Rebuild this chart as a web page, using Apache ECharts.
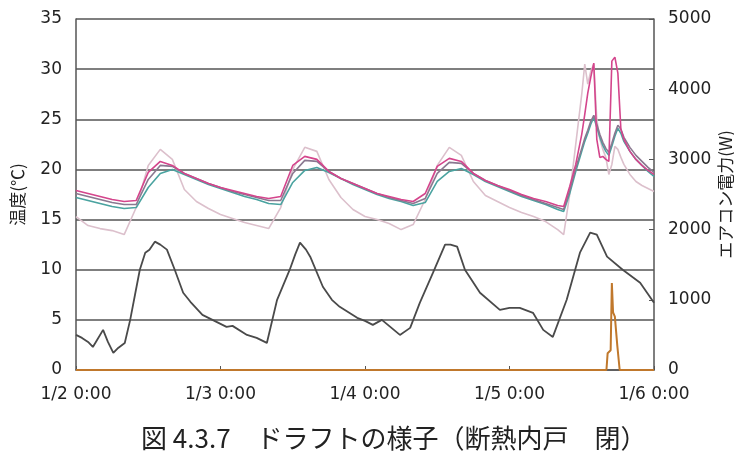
<!DOCTYPE html>
<html>
<head>
<meta charset="utf-8">
<script src="https://cdn.jsdelivr.net/npm/echarts@6/dist/echarts.min.js"></script>
<style>
  html, body { margin: 0; padding: 0; background: #ffffff; }
  #chart { width: 734px; height: 457px; }
</style>
</head>
<body>
<div id="chart"></div>
<script>
// Time in hours from 1/2 0:00
const xTickLabels = ['1/2 0:00', '1/3 0:00', '1/4 0:00', '1/5 0:00', '1/6 0:00'];

// Sample times for the indoor temperatures (denser around the heating spikes)
const tIn = [0,2,4,6,8,10,12,14,16,18,20,22,24,26,28,30,32,34,36,38,40,42,44,46,48,50,52,54,56,58,60,62,64,66,68,70,72,74,76,78,80,
  81,82,83,84,84.5,85,85.5,86,86.5,87,87.5,88,88.5,89,89.5,90,90.5,91,92,93,94,95,96];

// Indoor temperatures (°C)
const tempMagenta = [17.9,17.6,17.3,17.0,16.8,16.9,19.7,20.8,20.4,19.6,19.1,18.6,18.2,17.9,17.6,17.3,17.1,17.3,20.4,21.3,21.0,19.8,19.1,18.6,18.1,17.6,17.3,17.0,16.8,17.6,20.3,21.1,20.8,19.6,18.9,18.4,18.0,17.5,17.1,16.8,16.4,
  16.3,18.3,20.5,23.5,25.5,27.6,29.2,30.6,23.0,21.2,21.3,21.0,20.8,30.8,31.2,29.6,24.0,23.0,21.8,21.0,20.4,19.9,19.5];
const tempGray = [17.6,17.3,17.0,16.7,16.5,16.5,19.0,20.4,20.3,19.6,19.1,18.6,18.2,17.8,17.5,17.2,16.9,16.9,19.6,20.9,20.8,19.8,19.1,18.6,18.1,17.6,17.2,16.9,16.6,17.1,19.6,20.7,20.6,19.6,18.9,18.4,17.9,17.4,17.0,16.6,16.2,
  16.0,17.9,20.1,22.1,23.1,23.9,24.8,25.4,24.5,23.5,22.7,22.1,21.7,22.6,23.6,24.4,24.0,23.2,22.2,21.4,20.8,20.2,19.7];
const tempTeal = [17.2,16.9,16.6,16.3,16.1,16.2,18.2,19.6,20.0,19.5,19.0,18.5,18.1,17.7,17.3,17.0,16.6,16.5,18.7,19.9,20.2,19.7,19.1,18.5,18.0,17.5,17.1,16.8,16.4,16.7,18.8,19.8,20.1,19.5,18.8,18.3,17.8,17.3,16.9,16.5,16.0,
  15.8,17.6,19.8,21.8,22.8,23.6,24.5,25.2,24.2,23.2,22.4,21.8,21.4,22.3,23.3,24.1,23.6,22.8,21.8,21.0,20.4,19.8,19.3];
const tempLight = [15.3,14.4,14.1,13.9,13.5,16.2,20.4,22.0,21.0,18.0,16.8,16.1,15.5,15.1,14.7,14.4,14.1,16.2,20.0,22.2,21.8,19.0,17.2,16.0,15.3,15.0,14.6,14.0,14.5,17.0,20.4,22.2,21.4,18.8,17.4,16.8,16.2,15.7,15.3,14.8,14.0,
  13.5,17.5,22.5,27.5,30.5,28.5,29.8,30.5,25.0,23.0,22.0,21.2,19.5,20.5,22.3,22.0,21.2,20.5,19.5,18.8,18.4,18.1,17.8];

// Outdoor temperature (°C)
const tOut = [0,1,2,2.8,3.5,4.5,5.3,6.2,7,8.1,9,9.8,10.6,11.5,12.2,13.1,14,15.1,16.4,17.8,19,21,23,25,26,28.4,30,31.7,33.4,35.5,36.4,37.2,38.2,38.9,41,42.5,43.8,46.7,48,49.3,50.8,52,53.8,55.5,57.1,59.3,61.3,62.2,63.3,64.6,67.1,70.4,72,73.7,75.9,77.6,79.2,81.5,83.7,85.4,86.5,88.2,90.8,93.7,96];
const tempOut = [3.5,3.2,2.8,2.3,3.0,4.0,2.8,1.7,2.2,2.7,5.0,7.5,10.0,11.7,12.0,12.8,12.5,12.0,10.0,7.7,6.8,5.5,4.9,4.3,4.4,3.5,3.2,2.7,7.0,10.0,11.5,12.7,12.0,11.3,8.3,7.0,6.3,5.2,4.9,4.5,5.0,4.4,3.5,4.2,6.7,9.7,12.5,12.5,12.3,10.0,7.7,6.0,6.2,6.2,5.7,4.0,3.3,7.0,11.7,13.7,13.5,11.3,10.0,8.7,6.7];

// Air-conditioner power (W)
const tPow = [0,88.1,88.3,88.8,89.0,89.2,89.5,89.9,90.3,96];
const power = [0,0,240,280,1240,820,760,350,0,0];

function pairs(xs, ys) { return xs.map((x, i) => [x, ys[i]]); }

const chart = echarts.init(document.getElementById('chart'), null, { renderer: 'canvas' });
const tickFont = { fontFamily: 'DejaVu Sans', fontSize: 17, color: '#222' };
const nameFont = { fontFamily: 'Noto Sans CJK JP', fontSize: 17, color: '#222' };

function line(name, xs, ys, color, width, axis) {
  return {
    name: name, type: 'line', yAxisIndex: axis || 0,
    data: pairs(xs, ys), showSymbol: false, smooth: false,
    lineStyle: { color: color, width: width }, itemStyle: { color: color },
    z: 3
  };
}

chart.setOption({
  animation: false,
  backgroundColor: '#ffffff',
  title: {
    text: '図 4.3.7　ドラフトの様子（断熱内戸　閉）',
    left: 136, top: 420,
    textStyle: { fontFamily: 'Noto Sans CJK JP', fontSize: 26, fontWeight: 'normal', color: '#222' }
  },
  grid: { left: 76, right: 80, top: 19, bottom: 87, containLabel: false, outerBoundsMode: 'none' },
  xAxis: {
    type: 'value', min: 0, max: 96, interval: 24,
    axisLine: { lineStyle: { color: '#555', width: 1.5 } },
    axisTick: { inside: true, length: 4, lineStyle: { color: '#555' } },
    splitLine: { show: false },
    axisLabel: Object.assign({ margin: 16, formatter: v => xTickLabels[Math.round(v / 24)] }, tickFont)
  },
  yAxis: [{
    type: 'value', min: 0, max: 35, interval: 5,
    name: '温度(℃)', nameLocation: 'middle', nameGap: 50, nameRotate: 90, nameMoveOverlap: false,
    nameTextStyle: nameFont,
    axisLine: { show: true, lineStyle: { color: '#555', width: 1.5 } },
    axisTick: { show: false },
    splitLine: { lineStyle: { color: '#555', width: 1.5 } },
    axisLabel: Object.assign({ margin: 14 }, tickFont)
  }, {
    type: 'value', min: 0, max: 5000, interval: 1000, position: 'right',
    name: 'エアコン電力(W)', nameLocation: 'middle', nameGap: 63, nameRotate: 90, nameMoveOverlap: false,
    nameTextStyle: nameFont,
    axisLine: { show: true, lineStyle: { color: '#555', width: 1.5 } },
    axisTick: { show: true, inside: true, length: 5, lineStyle: { color: '#555' } },
    splitLine: { show: false },
    axisLabel: Object.assign({ margin: 14, formatter: v => String(v) }, tickFont)
  }],
  series: [
    line('室温D', tIn, tempLight, '#dcc0cc', 1.6),
    line('室温C', tIn, tempTeal, '#4aa3a0', 1.6),
    line('室温B', tIn, tempGray, '#8a7890', 1.6),
    line('室温A', tIn, tempMagenta, '#d4458c', 1.6),
    line('外気温', tOut, tempOut, '#4a4a4a', 1.8),
    line('エアコン電力', tPow, power, '#c0782c', 2, 1)
  ]
});
</script>
</body>
</html>
